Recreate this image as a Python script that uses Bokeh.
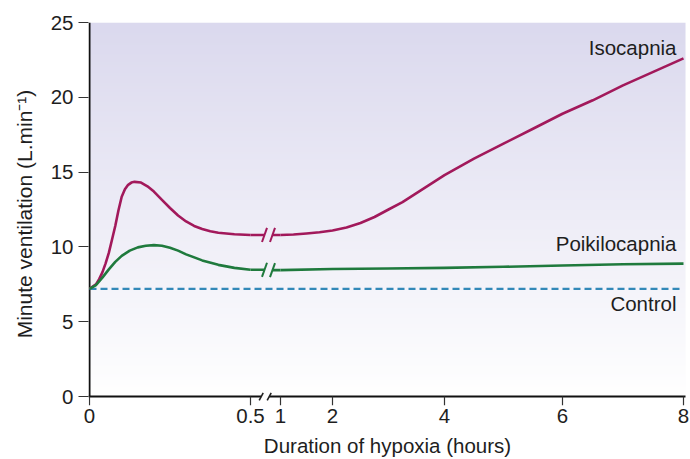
import numpy as np
from bokeh.plotting import figure
from bokeh.models import FixedTicker, Range1d
from bokeh.embed import file_html
from bokeh.resources import INLINE
from bokeh.core.properties import value

# ---------------- data ----------------
iso_early_hours = [0, 0.02, 0.03, 0.04, 0.05, 0.06, 0.07, 0.08, 0.09, 0.1, 0.11, 0.12,
                   0.13, 0.14, 0.16, 0.18, 0.2, 0.225, 0.25, 0.275, 0.3, 0.325,
                   0.35, 0.375, 0.4, 0.45, 0.5]
iso_early = [7.2, 7.5, 7.85, 8.3, 8.9, 9.6, 10.5, 11.4, 12.45, 13.35, 13.85, 14.15,
             14.3, 14.35, 14.3, 14.05, 13.7, 13.15, 12.6, 12.1, 11.7, 11.4,
             11.2, 11.05, 10.95, 10.85, 10.8]
iso_late_hours = [1, 1.25, 1.5, 1.75, 2, 2.25, 2.5, 2.75, 3, 3.25, 3.5, 3.75, 4,
                  4.5, 5, 5.5, 6, 6.5, 7, 7.5, 8]
iso_late = [10.8, 10.83, 10.9, 10.98, 11.1, 11.3, 11.6, 12.0, 12.5, 13.0, 13.6, 14.2, 14.8,
            15.9, 16.9, 17.9, 18.9, 19.8, 20.8, 21.7, 22.6]

poi_early_hours = [0, 0.02, 0.04, 0.06, 0.08, 0.1, 0.125, 0.15, 0.175, 0.2,
                   0.225, 0.25, 0.275, 0.3, 0.35, 0.4, 0.45, 0.5]
poi_early = [7.2, 7.45, 7.95, 8.5, 9.0, 9.4, 9.75, 9.97, 10.08, 10.12,
             10.08, 9.95, 9.75, 9.5, 9.1, 8.8, 8.6, 8.47]
poi_late_hours = [1, 2, 3, 4, 5, 6, 7, 8]
poi_late = [8.45, 8.52, 8.56, 8.6, 8.67, 8.76, 8.84, 8.88]

control_hours = [0, 8]
control = [7.2, 7.2]

series_names = ["Isocapnia", "Poikilocapnia", "Control"]
x_tick_hours = [0, 0.5, 1, 2, 4, 6, 8]
x_tick_labels = ["0", "0.5", "1", "2", "4", "6", "8"]
y_ticks = [0, 5, 10, 15, 20, 25]

# ---------------- broken time axis (hand-drawn scale) ----------------
AXIS_HOURS = [0, 0.5, 1, 2, 4, 6, 8]
AXIS_OFFSET = [0, 161, 191, 243, 355, 473, 594]   # screen offsets of the original axis


def hx(h):
    return np.interp(h, AXIS_HOURS, AXIS_OFFSET)


ISO_C = "#a2195b"
POI_C = "#1f7a3d"
CTL_C = "#3389b8"
AX_C = "#111111"
FONT = "Liberation Sans"
TXT = "#1e1e1e"

W, H = 690, 459
TOP, BOTTOM, LEFT = 22, 53, 88
PX_PER_UNIT = 15.0
Y_LO = -(H - TOP - BOTTOM - 25 * PX_PER_UNIT) / PX_PER_UNIT   # room below the time axis

p = figure(width=W, height=H, output_backend="svg", toolbar_location=None,
           x_range=Range1d(-1, 597), y_range=Range1d(Y_LO, 25),
           min_border_left=LEFT, min_border_right=W - LEFT - 598, min_border_top=TOP,
           min_border_bottom=BOTTOM)
p.outline_line_color = None
p.background_fill_color = "white"
p.border_fill_color = "white"
p.xgrid.visible = False
p.ygrid.visible = False

# background gradient (lavender at top to white at bottom)
n = 256
top = np.array([219, 217, 238], dtype=float)
bot = np.array([255, 255, 255], dtype=float)
f = np.linspace(0, 1, n)[:, None]
cols = bot * (1 - f) + top * f
img = np.empty((n, 1), dtype=np.uint32)
view = img.view(dtype=np.uint8).reshape((n, 1, 4))
view[:, 0, 0] = cols[:, 0]
view[:, 0, 1] = cols[:, 1]
view[:, 0, 2] = cols[:, 2]
view[:, 0, 3] = 255
p.image_rgba(image=[img], x=0, y=0, dw=596, dh=25)

# axis lines drawn in data space (time axis has a break)
b1, b2 = 171.7, 179.7
p.segment(x0=[0, -1, b2], y0=[0, 0, 0], x1=[0, b1, 596], y1=[25, 0, 0],
          line_color=AX_C, line_width=2)
tx = hx(x_tick_hours)
p.segment(x0=tx, y0=[0] * len(tx), x1=tx, y1=[-9 / PX_PER_UNIT] * len(tx),
          line_color="#333333", line_width=1.2)
p.segment(x0=[b1 - 2, b2 - 2], y0=[-0.25, -0.25], x1=[b1 + 2, b2 + 2], y1=[0.25, 0.25],
          line_color="#222222", line_width=1.6)

# control
p.line(hx(control_hours), control, line_color=CTL_C, line_width=2.2, line_dash="7 4")

LW = 2.6
# curves
for eh, ev, lh, lv, c in [(iso_early_hours, iso_early, iso_late_hours, iso_late, ISO_C),
                          (poi_early_hours, poi_early, poi_late_hours, poi_late, POI_C)]:
    p.line(hx(eh), ev, line_color=c, line_width=LW, line_join="round")
    p.line(hx(lh), lv, line_color=c, line_width=LW, line_join="round")
    # break marks
    s1, s2 = 175, 183
    p.line([hx(eh[-1]), s1], [ev[-1], ev[-1]], line_color=c, line_width=LW)
    p.line([s2, hx(lh[0])], [lv[0], lv[0]], line_color=c, line_width=LW)
    for s, yv in [(s1, ev[-1]), (s2, lv[0])]:
        p.segment(x0=[s - 2.5], y0=[yv - 0.47], x1=[s + 2.5], y1=[yv + 0.47],
                  line_color=c, line_width=2)

# series labels
p.text(x=[587, 587, 587], y=[23.35, 10.25, 6.2], text=series_names,
       text_align="right", text_baseline="alphabetic",
       text_font=value(FONT), text_font_size="20.5px", text_color=TXT)

# axes (lines hidden; labels from Bokeh)
for ax in (p.xaxis[0], p.yaxis[0]):
    ax.axis_line_color = None
    ax.major_tick_line_color = "#333333"
    ax.major_tick_line_width = 1.2
    ax.minor_tick_line_color = None
    ax.major_label_text_font = FONT
    ax.major_label_text_font_size = "20.5px"
    ax.major_label_text_color = TXT
    ax.axis_label_text_font = FONT
    ax.axis_label_text_font_size = "20.5px"
    ax.axis_label_text_font_style = "normal"
    ax.axis_label_text_color = TXT

p.xaxis.ticker = FixedTicker(ticks=[int(v) for v in tx])
p.xaxis.major_label_overrides = {int(v): lab for v, lab in zip(tx, x_tick_labels)}
p.xaxis.major_tick_line_color = None
p.xaxis.major_tick_in = 0
p.xaxis.major_tick_out = 0
p.xaxis.major_label_standoff = 3
p.xaxis.axis_label = "Duration of hypoxia (hours)"
p.xaxis.axis_label_standoff = 8

p.yaxis.ticker = FixedTicker(ticks=y_ticks)
p.yaxis.major_tick_in = 0
p.yaxis.major_tick_out = 10
p.yaxis.major_label_standoff = 5
p.yaxis.axis_label = "Minute ventilation (L.min\u207b\u00b9)"
p.yaxis.axis_label_text_font_size = "21px"
p.yaxis.axis_label_standoff = 12

open("out.html", "w").write(file_html(p, INLINE))
